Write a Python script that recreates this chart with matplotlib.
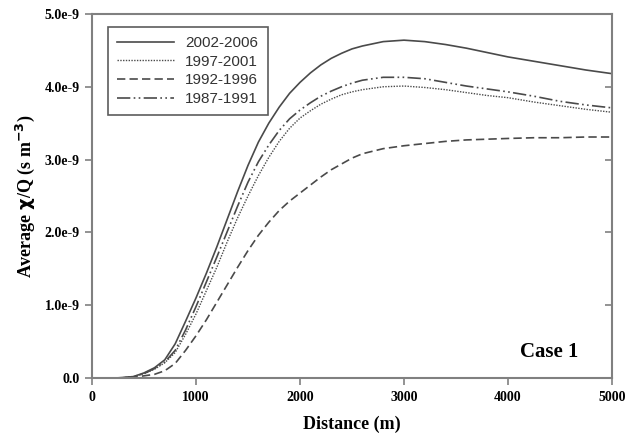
import matplotlib
matplotlib.use("Agg")
import matplotlib.pyplot as plt
import numpy as np

distance = [0, 100, 200, 300, 400, 500, 600, 700, 800, 900, 1000, 1100, 1200, 1300, 1400,
            1500, 1600, 1700, 1800, 1900, 2000, 2100, 2200, 2300, 2400, 2500, 2600,
            2800, 3000, 3200, 3400, 3600, 3800, 4000, 4250, 4500, 4750, 5000]

s2002_2006 = [0, 0, 0, 0.005, 0.02, 0.07, 0.14, 0.25, 0.47, 0.78, 1.10, 1.44, 1.80, 2.18, 2.56,
              2.92, 3.24, 3.50, 3.72, 3.91, 4.06, 4.19, 4.30, 4.39, 4.46, 4.52, 4.56,
              4.62, 4.64, 4.62, 4.58, 4.53, 4.47, 4.41, 4.35, 4.29, 4.23, 4.18]
s1997_2001 = [0, 0, 0, 0.005, 0.02, 0.06, 0.12, 0.21, 0.35, 0.60, 0.88, 1.20, 1.52, 1.87, 2.20,
              2.50, 2.78, 3.03, 3.25, 3.43, 3.57, 3.67, 3.76, 3.83, 3.89, 3.93, 3.96,
              4.00, 4.01, 3.99, 3.96, 3.92, 3.88, 3.85, 3.79, 3.74, 3.69, 3.65]
s1992_1996 = [0, 0, 0, 0.003, 0.01, 0.03, 0.05, 0.10, 0.20, 0.38, 0.58, 0.80, 1.04, 1.28, 1.52,
              1.75, 1.96, 2.14, 2.30, 2.43, 2.54, 2.65, 2.76, 2.86, 2.94, 3.02, 3.08,
              3.15, 3.19, 3.22, 3.25, 3.27, 3.28, 3.29, 3.30, 3.30, 3.31, 3.31]
s1987_1991 = [0, 0, 0, 0.005, 0.02, 0.06, 0.13, 0.22, 0.38, 0.66, 0.98, 1.32, 1.66, 2.01, 2.36,
              2.69, 2.97, 3.20, 3.40, 3.56, 3.68, 3.78, 3.87, 3.94, 4.00, 4.05, 4.09,
              4.13, 4.13, 4.11, 4.06, 4.01, 3.97, 3.93, 3.87, 3.80, 3.75, 3.71]

labels = ["2002-2006", "1997-2001", "1992-1996", "1987-1991"]
yticks = [0.0, 1.0e-9, 2.0e-9, 3.0e-9, 4.0e-9, 5.0e-9]
ytick_labels = ["0.0", "1.0e-9", "2.0e-9", "3.0e-9", "4.0e-9", "5.0e-9"]
xticks = [0, 1000, 2000, 3000, 4000, 5000]

fig = plt.figure(figsize=(6.28, 4.36), dpi=100)
ax = fig.add_axes([0.1465, 0.133, 0.828, 0.835])

x = np.array(distance)
series = [s2002_2006, s1997_2001, s1992_1996, s1987_1991]
styles = ["-", (0, (1, 1)), (0, (5, 2.5)), (0, (8, 2, 1, 2, 1, 2))]
widths = [1.2, 1.0, 1.2, 1.2]
lc = "#4a4a4a"
for vals, lab, ls, lw in zip(series, labels, styles, widths):
    ax.plot(x, np.array(vals) * 1e-9, color=lc, linestyle=ls, linewidth=lw, label=lab)

ax.set_xlim(0, 5000)
ax.set_ylim(0, 5.0e-9)
ax.set_xticks(xticks)
ax.set_xticklabels([str(t) for t in xticks], fontfamily="Liberation Serif",
                   fontweight="bold", fontsize=10)
ax.set_yticks(yticks)
ax.set_yticklabels(ytick_labels, fontfamily="Liberation Serif", fontweight="bold", fontsize=10)

spine_c = "#808080"
for sp in ax.spines.values():
    sp.set_color(spine_c)
    sp.set_linewidth(1.5)
ax.tick_params(axis="both", direction="out", length=5, width=1.2, color=spine_c,
               pad=4, labelcolor="black")
ax.tick_params(axis="y", right=True, which="major")
for t in ax.yaxis.get_major_ticks():
    t.tick2line.set_marker(matplotlib.lines.TICKLEFT)
    t.tick2line.set_markersize(5)

ax.set_xlabel("Distance (m)", fontfamily="Liberation Serif", fontweight="bold",
              fontsize=13, labelpad=9)
ax.set_ylabel(r"Average $\mathbf{\chi}$/Q (s m$^{\mathbf{-3}}$)", fontfamily="Liberation Serif",
              fontweight="bold", fontsize=13, labelpad=5)

leg = ax.legend(loc="upper left", bbox_to_anchor=(0.03, 0.965), frameon=True, fancybox=False,
                prop={"family": "Liberation Sans", "size": 11}, handlelength=3.7,
                handletextpad=0.75, borderpad=0.62, labelspacing=0.3, borderaxespad=0,
                labelcolor="#333333")
leg.get_frame().set_edgecolor("#333333")
leg.get_frame().set_linewidth(1.2)

ax.text(0.935, 0.045, "Case 1", transform=ax.transAxes, ha="right", va="bottom",
        fontfamily="Liberation Serif", fontweight="bold", fontsize=15)

fig.savefig("out.png", dpi=100)
